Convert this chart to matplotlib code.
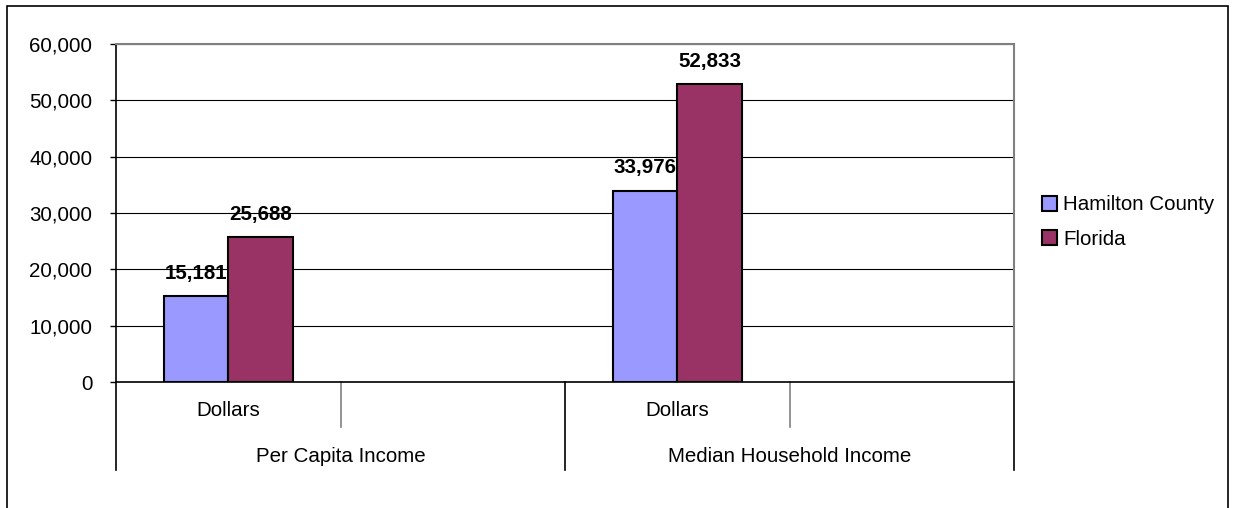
import matplotlib.pyplot as plt
from matplotlib.lines import Line2D
from matplotlib.patches import Rectangle, Patch
import matplotlib.transforms as mtransforms

plt.rcParams["font.family"] = ["Liberation Sans", "DejaVu Sans"]

# veriler
seriler = ["Hamilton County", "Florida"]
hamilton = [15181, 33976]
florida = [25688, 52833]
alt_etiketler = ["Dollars", "", "Dollars", ""]
grup_etiketleri = ["Per Capita Income", "Median Household Income"]
y_ticks = [0, 10000, 20000, 30000, 40000, 50000, 60000]

renkler = ["#9999FF", "#993366"]
yazi = 14.8

fig = plt.figure(figsize=(12.33, 5.08), dpi=100)
# dis cerceve
fig.patches.append(Rectangle((7 / 1233, -0.05), 1221 / 1233, 1.05 - 6 / 508,
                             transform=fig.transFigure, fill=False,
                             edgecolor="black", linewidth=1.2))

ax = fig.add_axes([116 / 1233, 1 - 382 / 508, 898 / 1233, 338 / 508])

genislik = 0.287
grup_x = [0, 2]
for i, x in enumerate(grup_x):
    for j, (deger, renk) in enumerate(zip([hamilton[i], florida[i]], renkler)):
        bx = x - genislik / 2 + j * genislik
        ax.bar(bx, deger, width=genislik, color=renk, edgecolor="black",
               linewidth=1.5, zorder=3)
        ax.annotate(f"{deger:,}", (bx, deger), xytext=(0, 23),
                    textcoords="offset pixels",
                    ha="center", va="center", fontsize=yazi, fontweight="bold",
                    zorder=4)

ax.set_xlim(-0.5, 3.5)
ax.set_ylim(0, 60000)
ax.set_yticks(y_ticks)
ax.set_yticklabels([f"{v:,}" for v in y_ticks], fontsize=yazi)
ax.tick_params(axis="y", length=4.5, width=1, color="black", pad=12.5)
ax.set_xticks([])
ax.yaxis.grid(True, color="black", linewidth=0.8, zorder=0)

for k in ["top", "right"]:
    ax.spines[k].set_color("#808080")
    ax.spines[k].set_linewidth(1.5)
ax.spines["left"].set_linewidth(1.2)
ax.spines["bottom"].set_linewidth(1.2)

# iki seviyeli kategori ekseni
trans = mtransforms.blended_transform_factory(ax.transData, ax.transAxes)
px = 1 / 338
for s in range(5):
    uzun = s % 2 == 0
    alt = -88 * px if uzun else -45 * px
    renk = "black" if uzun else "#808080"
    ax.add_line(Line2D([s - 0.5, s - 0.5], [0, alt], transform=trans,
                       color=renk, linewidth=1.2, clip_on=False))
for s, etiket in enumerate(alt_etiketler):
    ax.text(s, -29 * px, etiket, transform=trans, ha="center", va="center",
            fontsize=yazi)
for g, etiket in enumerate(grup_etiketleri):
    ax.text(2 * g + 0.5, -74 * px, etiket, transform=trans, ha="center",
            va="center", fontsize=yazi)

# lejant
tutamaclar = [Patch(facecolor=r, edgecolor="black", linewidth=1.5) for r in renkler]
fig.legend(tutamaclar, seriler, loc="center left",
           bbox_to_anchor=(1023 / 1233, 1 - 222 / 508), frameon=False,
           fontsize=yazi, handlelength=0.75, handleheight=0.75,
           handletextpad=0.3, labelspacing=0.75)

fig.savefig("out.png", dpi=100)
